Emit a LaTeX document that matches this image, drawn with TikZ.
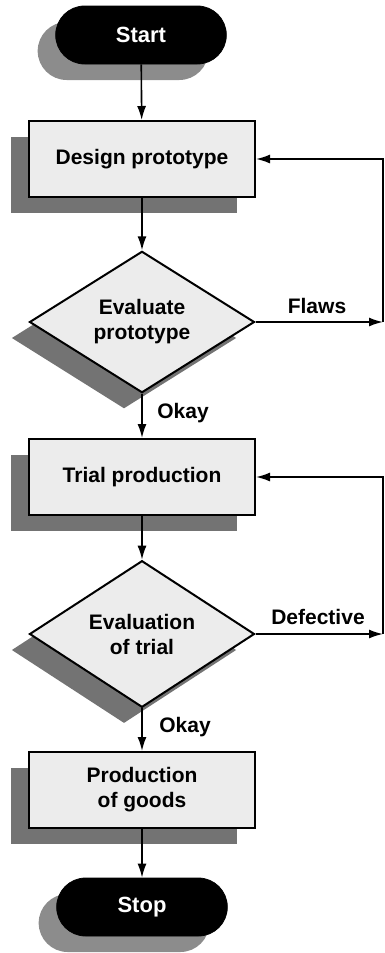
\documentclass[tikz,border=0pt]{standalone}
\usepackage{fontspec}
\setmainfont{Liberation Sans}
\usetikzlibrary{shapes.geometric, shapes.misc, arrows.meta, shadows, positioning}
\tikzset{stepbox/.style={rectangle, draw=black, line width=1pt, fill=gray!15, minimum width=113pt, minimum height=38pt, align=center, font=\fontsize{10.5pt}{12.5pt}\selectfont\bfseries, drop shadow={shadow xshift=-9pt, shadow yshift=-8pt, fill=black, opacity=.55}},
    test/.style={diamond, draw=black, line width=1pt, fill=gray!15, minimum width=112.5pt, minimum height=66.5pt, inner sep=0pt, align=center, font=\fontsize{10.5pt}{12.5pt}\selectfont\bfseries, drop shadow={shadow xshift=-9pt, shadow yshift=-8pt, fill=black, opacity=.55}},
    term/.style={rounded rectangle, draw=black, fill=black, text=white, minimum width=92pt, minimum height=29pt, font=\fontsize{11pt}{13pt}\selectfont\bfseries, drop shadow={shadow xshift=-9pt, shadow yshift=-8pt, fill=black, opacity=.45}},
    lbl/.style={font=\fontsize{10.5pt}{12.5pt}\selectfont\bfseries},
    flow/.style={-{Latex[length=7pt, width=4.5pt]}, line width=0.8pt}}
\begin{document}
\begin{tikzpicture}[x=0.5pt, y=-0.5pt]
                      \useasboundingbox (0,0) rectangle (385,953);
                      \node[term] (start) at (141,35) {Start};
                      \node[stepbox] (design) at (142,159) {Design prototype};
                      \node[test] (evalp) at (142,322) {Evaluate\\prototype};
                      \node[stepbox] (trial) at (142,477) {Trial production};
                      \node[test] (evalt) at (142,634) {Evaluation\\of trial};
                      \node[stepbox] (goods) at (142,790) {Production\\of goods};
                      \node[term] (stop) at (142,907) {Stop};
                      
                      \coordinate (c1) at (383,322);
                      \coordinate (c2) at (383,634);
                      
                      \draw[flow] (start) -- (design);
                      \draw[flow] (design) -- (evalp);
                      \draw[flow] (evalp) -- (trial);
                      \draw[flow] (trial) -- (evalt);
                      \draw[flow] (evalt) -- (goods);
                      \draw[flow] (goods) -- (stop);
                      
                      \draw[flow] (evalp.east) -- (c1);
                      \draw[flow] (c1) |- (design.east);
                      \draw[flow] (evalt.east) -- (c2);
                      \draw[flow] (c2) |- (trial.east);
                      
                      \node[lbl] (flaws) at (317,306) {Flaws};
                      \node[lbl] (defective) at (318,617) {Defective};
                      \node[lbl] (okay1) at (183,413) {Okay};
                      \node[lbl] (okay2) at (185,727) {Okay};
             \end{tikzpicture}
\end{document}
